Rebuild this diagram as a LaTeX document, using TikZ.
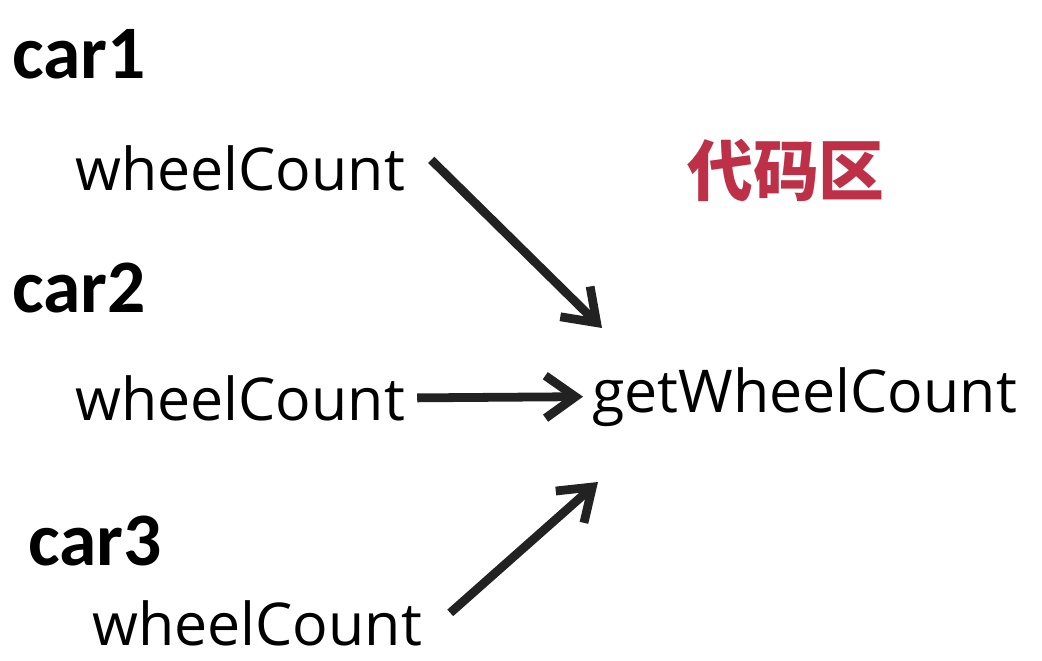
\documentclass[tikz,border=0pt]{standalone}
\usepackage{fontspec}
\setmainfont{Open Sans}
\newfontfamily\carfont{Carlito}
\newfontfamily\cjk{Noto Sans CJK SC}
\usetikzlibrary{arrows.meta, positioning}
\definecolor{codered}{RGB}{190,48,72}
\definecolor{arrowgray}{RGB}{34,34,34}
\tikzset{
  carlabel/.style={anchor=base west, inner sep=0pt, font=\carfont\bfseries\fontsize{43}{48}\selectfont},
  field/.style={anchor=base west, inner sep=0pt, font=\fontsize{33.6}{40}\selectfont},
  arr/.style={draw=arrowgray, line width=5pt, -{Straight Barb[length=0.6cm, width=0.85cm]}}
}

\begin{document}
\begin{tikzpicture}[x=0.02cm, y=-0.02cm]
    \useasboundingbox (0,0) rectangle (1042,660);
    % objects
    \node[carlabel] (car1) at (12,78) {car1};
    \node[field] (w1) at (75,190) {wheelCount};
    \node[carlabel] (car2) at (12,312) {car2};
    \node[field] (w2) at (75,420) {wheelCount};
    \node[carlabel] (car3) at (28,565) {car3};
    \node[field] (w3) at (92,645) {wheelCount};
    % shared method
    \node[field] (get) at (592,412) {getWheelCount};
    \node[font=\cjk\bfseries\fontsize{37.5}{40}\selectfont, text=codered] (area) at (786,170) {代码区};
    % arrows
    \coordinate (t1) at (602,328);
    \coordinate (t3) at (598,482);
    \draw[arr] ([xshift=0.52cm, yshift=0.16cm]w1.east) -- (t1);
    \draw[arr] ([xshift=0.24cm]w2.east) -- ([xshift=-0.18cm]get.west);
    \draw[arr] ([xshift=0.56cm, yshift=0.2cm]w3.east) -- (t3);
\end{tikzpicture}
\end{document}
